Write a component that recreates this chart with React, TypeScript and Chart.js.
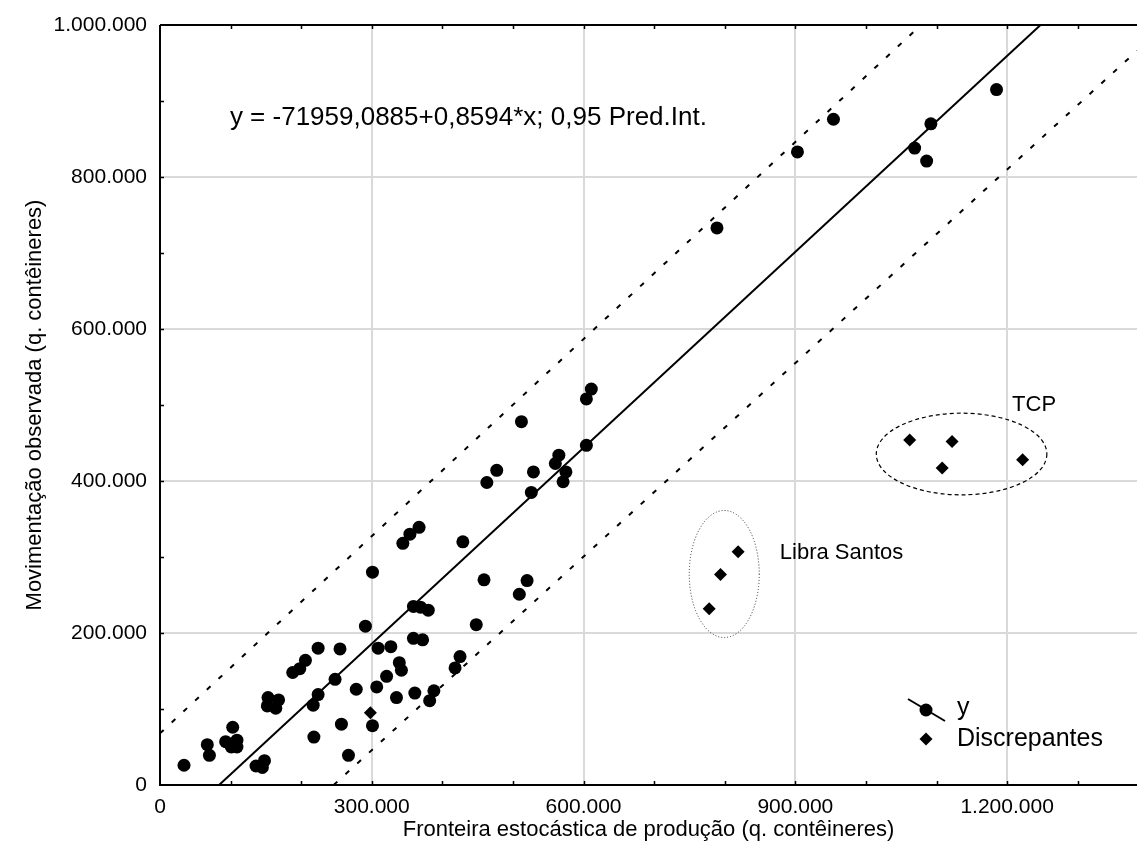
import React, { useEffect, useRef } from "react";
import { Chart, registerables } from "chart.js";

Chart.register(...registerables);

// ---- data ----
const circleX = [
  34000, 67000, 70000, 103000, 93000, 101000, 109000, 109000, 153000, 152000,
  164000, 168000, 136000, 148000, 145000, 217000, 224000, 218000, 188000, 198000,
  206000, 224000, 255000, 248000, 257000, 267000, 278000, 291000, 301000, 309000,
  327000, 307000, 321000, 339000, 342000, 335000, 361000, 359000, 369000, 380000,
  359000, 372000, 388000, 382000, 425000, 418000, 301000, 344000, 354000, 367000,
  448000, 611000, 604000, 512000, 604000, 565000, 560000, 575000, 571000, 477000,
  463000, 529000, 526000, 429000, 459000, 520000, 509000, 789000, 903000, 954000,
  1069000, 1086000, 1092000, 1185000,
];
const circleY = [
  26000, 53000, 39000, 76000, 57000, 50000, 59000, 50000, 115000, 104000,
  101000, 112000, 25000, 32000, 23000, 105000, 119000, 63000, 148000, 153000,
  164000, 180000, 179000, 139000, 80000, 39000, 126000, 209000, 78000, 180000,
  182000, 129000, 143000, 161000, 151000, 115000, 121000, 235000, 234000, 230000,
  193000, 191000, 124000, 111000, 169000, 154000, 280000, 318000, 330000, 339000,
  211000, 521000, 508000, 478000, 447000, 434000, 423000, 412000, 399000, 414000,
  398000, 412000, 385000, 320000, 270000, 269000, 251000, 733000, 833000, 876000,
  838000, 821000, 870000, 915000,
];
const diamondX = [298000, 1062000, 1122000, 1108000, 1222000, 819000, 794000, 778000];
const diamondY = [95000, 454000, 452000, 417000, 428000, 307000, 277000, 232000];

const regX = [83700, 1247300];
const regY = [0, 1000000];
const upperX = [0, 1078000];
const upperY = [68000, 1000000];
const lowerX = [246000, 1384000];
const lowerY = [0, 966000];

const xMax = 1384000;
const yMax = 1000000;
const xTicks = [0, 100000, 200000, 300000, 400000, 500000, 600000, 700000, 800000, 900000, 1000000, 1100000, 1200000, 1300000];
const xLabelStep = 300000;
const yTicks = [0, 100000, 200000, 300000, 400000, 500000, 600000, 700000, 800000, 900000, 1000000];
const yLabelStep = 200000;

const equationText = "y = -71959,0885+0,8594*x; 0,95 Pred.Int.";
const xTitle = "Fronteira estocástica de produção (q. contêineres)";
const yTitle = "Movimentação observada (q. contêineres)";
const legendLabels = ["y", "Discrepantes"];

// annotation anchors in data units
const tcpEllipse = { cx: 1135500, cy: 435500, rx: 120800, ry: 53700 };
const libraEllipse = { cx: 799300, cy: 277600, rx: 49600, ry: 83600 };
const tcpLabel = { text: "TCP", x: 1207000, y: 500000 };
const libraLabel = { text: "Libra Santos", x: 878000, y: 305700 };
const eqLabel = { x: 99000, y: 877600 };

const FONT = '"Liberation Sans", Arial, Helvetica, sans-serif';
const fmt = (v: number) => String(v).replace(/\B(?=(\d{3})+(?!\d))/g, ".");
const toPts = (xs: number[], ys: number[]) => xs.map((x, i) => ({ x, y: ys[i] }));

const annotPlugin = {
  id: "annot",
  afterDatasetsDraw(chart: any) {
    const { ctx, chartArea: a, scales } = chart;
    const xs = scales.x;
    const ys = scales.y;
    const px = (v: number) => xs.getPixelForValue(v);
    const py = (v: number) => ys.getPixelForValue(v);
    ctx.save();

    const ell = (e: any, dash: number[], w: number, col: string) => {
      const cx = px(e.cx), cy = py(e.cy);
      const rx = Math.abs(px(e.cx + e.rx) - cx), ry = Math.abs(py(e.cy + e.ry) - cy);
      ctx.beginPath();
      ctx.setLineDash(dash);
      ctx.lineWidth = w;
      ctx.strokeStyle = col;
      ctx.ellipse(cx, cy, rx, ry, 0, 0, Math.PI * 2);
      ctx.stroke();
    };
    ell(tcpEllipse, [4, 3], 1.2, "#000");
    ell(libraEllipse, [1, 2], 1, "#333");
    ctx.setLineDash([]);

    ctx.fillStyle = "#000";
    ctx.textBaseline = "middle";
    ctx.textAlign = "left";
    ctx.font = `22px ${FONT}`;
    ctx.fillText(tcpLabel.text, px(tcpLabel.x), py(tcpLabel.y));
    ctx.fillText(libraLabel.text, px(libraLabel.x), py(libraLabel.y));
    ctx.font = `26px ${FONT}`;
    ctx.fillText(equationText, px(eqLabel.x), py(eqLabel.y));

    // legend
    const lx = a.right - 211;
    const ly = a.bottom - 75;
    ctx.strokeStyle = "#000";
    ctx.lineWidth = 2;
    ctx.beginPath();
    ctx.moveTo(lx - 18, ly - 11);
    ctx.lineTo(lx + 19, ly + 11);
    ctx.stroke();
    ctx.beginPath();
    ctx.arc(lx, ly, 6.5, 0, Math.PI * 2);
    ctx.fill();
    const dy = ly + 29;
    ctx.beginPath();
    ctx.moveTo(lx, dy - 6.5);
    ctx.lineTo(lx + 6.5, dy);
    ctx.lineTo(lx, dy + 6.5);
    ctx.lineTo(lx - 6.5, dy);
    ctx.closePath();
    ctx.fill();
    ctx.font = `25px ${FONT}`;
    ctx.fillText(legendLabels[0], lx + 31, ly - 2);
    ctx.fillText(legendLabels[1], lx + 31, dy);

    // frame: left, bottom, top
    ctx.lineWidth = 2;
    ctx.strokeStyle = "#000";
    ctx.beginPath();
    ctx.moveTo(a.left, a.top);
    ctx.lineTo(a.right, a.top);
    ctx.moveTo(a.left, a.top);
    ctx.lineTo(a.left, a.bottom);
    ctx.lineTo(a.right, a.bottom);
    ctx.stroke();

    // inward ticks
    ctx.lineWidth = 1.5;
    ctx.beginPath();
    xTicks.forEach((v) => {
      if (v === 0) return;
      const x = Math.round(px(v)) + 0.5;
      ctx.moveTo(x, a.bottom);
      ctx.lineTo(x, a.bottom - 4);
      ctx.moveTo(x, a.top);
      ctx.lineTo(x, a.top + 4);
    });
    yTicks.forEach((v) => {
      if (v === 0 || v === yMax) return;
      const y = Math.round(py(v)) + 0.5;
      ctx.moveTo(a.left, y);
      ctx.lineTo(a.left + 4, y);
    });
    ctx.stroke();
    ctx.restore();
  },
};

export default function App() {
  const ref = useRef<HTMLCanvasElement | null>(null);
  useEffect(() => {
    if (!ref.current) return;
    Chart.defaults.font.family = FONT;
    Chart.defaults.color = "#000";
    const gridColor = (c: any, step: number) =>
      c.tick && c.tick.value !== 0 && c.tick.value % step === 0 ? "#d9d9d9" : "rgba(0,0,0,0)";
    const chart = new Chart(ref.current, {
      type: "scatter",
      data: {
        datasets: [
          {
            type: "line",
            data: toPts(upperX, upperY),
            borderColor: "#000",
            borderWidth: 2,
            borderDash: [5, 11],
            pointRadius: 0,
            fill: false,
          } as any,
          {
            type: "line",
            data: toPts(lowerX, lowerY),
            borderColor: "#000",
            borderWidth: 2,
            borderDash: [5, 11],
            pointRadius: 0,
            fill: false,
          } as any,
          {
            type: "line",
            data: toPts(regX, regY),
            borderColor: "#000",
            borderWidth: 2,
            pointRadius: 0,
            fill: false,
          } as any,
          {
            data: toPts(circleX, circleY),
            pointStyle: "circle",
            pointRadius: 6.5,
            backgroundColor: "#000",
            borderColor: "#000",
            borderWidth: 0,
          },
          {
            data: toPts(diamondX, diamondY),
            pointStyle: "rectRot",
            pointRadius: 6.5,
            backgroundColor: "#000",
            borderColor: "#000",
            borderWidth: 0,
          },
        ],
      },
      options: {
        animation: false,
        responsive: false,
        events: [],
        layout: { autoPadding: false, padding: { top: 25, right: 0, left: 0, bottom: 0 } },
        plugins: { legend: { display: false }, tooltip: { enabled: false }, title: { display: false } },
        scales: {
          x: {
            type: "linear",
            min: 0,
            max: xMax,
            border: { display: false },
            grid: {
              drawTicks: false,
              lineWidth: 2,
              color: (c: any) => gridColor(c, xLabelStep),
            },
            afterBuildTicks: (s: any) => {
              s.ticks = xTicks.map((value) => ({ value }));
            },
            ticks: {
              autoSkip: false,
              maxRotation: 0,
              minRotation: 0,
              padding: 10,
              font: { size: 21 },
              callback: (v: any) => (Number(v) % xLabelStep === 0 ? fmt(Number(v)) : ""),
            },
            title: {
              display: true,
              text: xTitle,
              font: { size: 22 },
              padding: { top: 0, bottom: 19 },
            },
            afterFit: (s: any) => {
              s.height = 77;
              s.paddingRight = 0;
              s.paddingLeft = 0;
            },
          },
          y: {
            type: "linear",
            min: 0,
            max: yMax,
            border: { display: false },
            grid: {
              drawTicks: false,
              lineWidth: 2,
              color: (c: any) => gridColor(c, yLabelStep),
            },
            afterBuildTicks: (s: any) => {
              s.ticks = yTicks.map((value) => ({ value }));
            },
            ticks: {
              autoSkip: false,
              padding: 13,
              font: { size: 21 },
              callback: (v: any) => (Number(v) % yLabelStep === 0 ? fmt(Number(v)) : ""),
            },
            title: {
              display: true,
              text: yTitle,
              font: { size: 22 },
              padding: { top: 22, bottom: 0 },
            },
            afterFit: (s: any) => {
              s.width = 160;
              s.paddingTop = 0;
              s.paddingBottom = 0;
            },
          },
        },
      },
      plugins: [annotPlugin],
    });
    return () => chart.destroy();
  }, []);
  return (
    <div
      style={{
        position: "fixed",
        left: 0,
        top: 0,
        width: 1137,
        height: 862,
        background: "#fff",
        overflow: "hidden",
      }}
    >
      <canvas ref={ref} width={1137} height={862} style={{ display: "block" }} />
    </div>
  );
}
